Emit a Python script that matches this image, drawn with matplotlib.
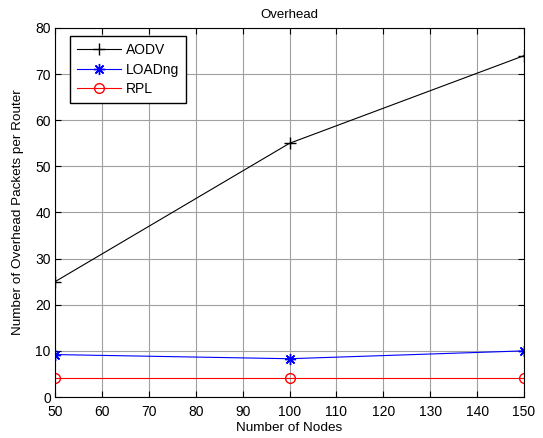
import matplotlib
matplotlib.use("Agg")
import matplotlib.pyplot as plt

plt.rcParams["font.family"] = ["Liberation Sans", "DejaVu Sans"]
plt.rcParams["font.size"] = 10

nodes = [50, 100, 150]
aodv = [25, 55, 74]
loadng = [9.2, 8.3, 10]
rpl = [4.2, 4.2, 4.2]

fig = plt.figure(figsize=(5.43, 4.38), dpi=100)
ax = fig.add_axes([0.1013, 0.0936, 0.8637, 0.8425])

ax.plot(nodes, aodv, color="black", marker="+", markersize=8, linewidth=0.8, label="AODV")
# matlab style asterisk (8 spokes)
ax.plot(nodes, loadng, color="blue", marker=(8, 2, 0), markersize=8, markeredgewidth=1.0,
        linewidth=0.8, label="LOADng")
ax.plot(nodes, rpl, color="red", marker="o", markerfacecolor="none", markersize=7,
        linewidth=0.8, label="RPL")

ax.set_xlim(50, 150)
ax.set_ylim(0, 80)
ax.set_xticks(range(50, 151, 10))
ax.set_yticks(range(0, 81, 10))
ax.tick_params(direction="in", top=True, right=True, length=4, labelsize=10)
ax.tick_params(axis="x", pad=6)
ax.tick_params(axis="y", pad=3)
ax.grid(True, color="#a0a0a0", linestyle="-", linewidth=0.8)
ax.set_axisbelow(True)
for s in ax.spines.values():
    s.set_linewidth(0.8)

ax.set_xlabel("Number of Nodes", fontsize=9.7, labelpad=2)
ax.set_ylabel("Number of Overhead Packets per Router", fontsize=9.7, labelpad=8)
ax.set_title("Overhead", fontsize=9.5, pad=7)

leg = ax.legend(loc="upper left", bbox_to_anchor=(0.032, 0.978), fancybox=False,
                edgecolor="black", framealpha=1, fontsize=10, handlelength=3.2,
                borderpad=0.5, labelspacing=0.4, handletextpad=0.3, borderaxespad=0)
leg.get_frame().set_linewidth(1.0)

fig.savefig("out.png", dpi=100)
